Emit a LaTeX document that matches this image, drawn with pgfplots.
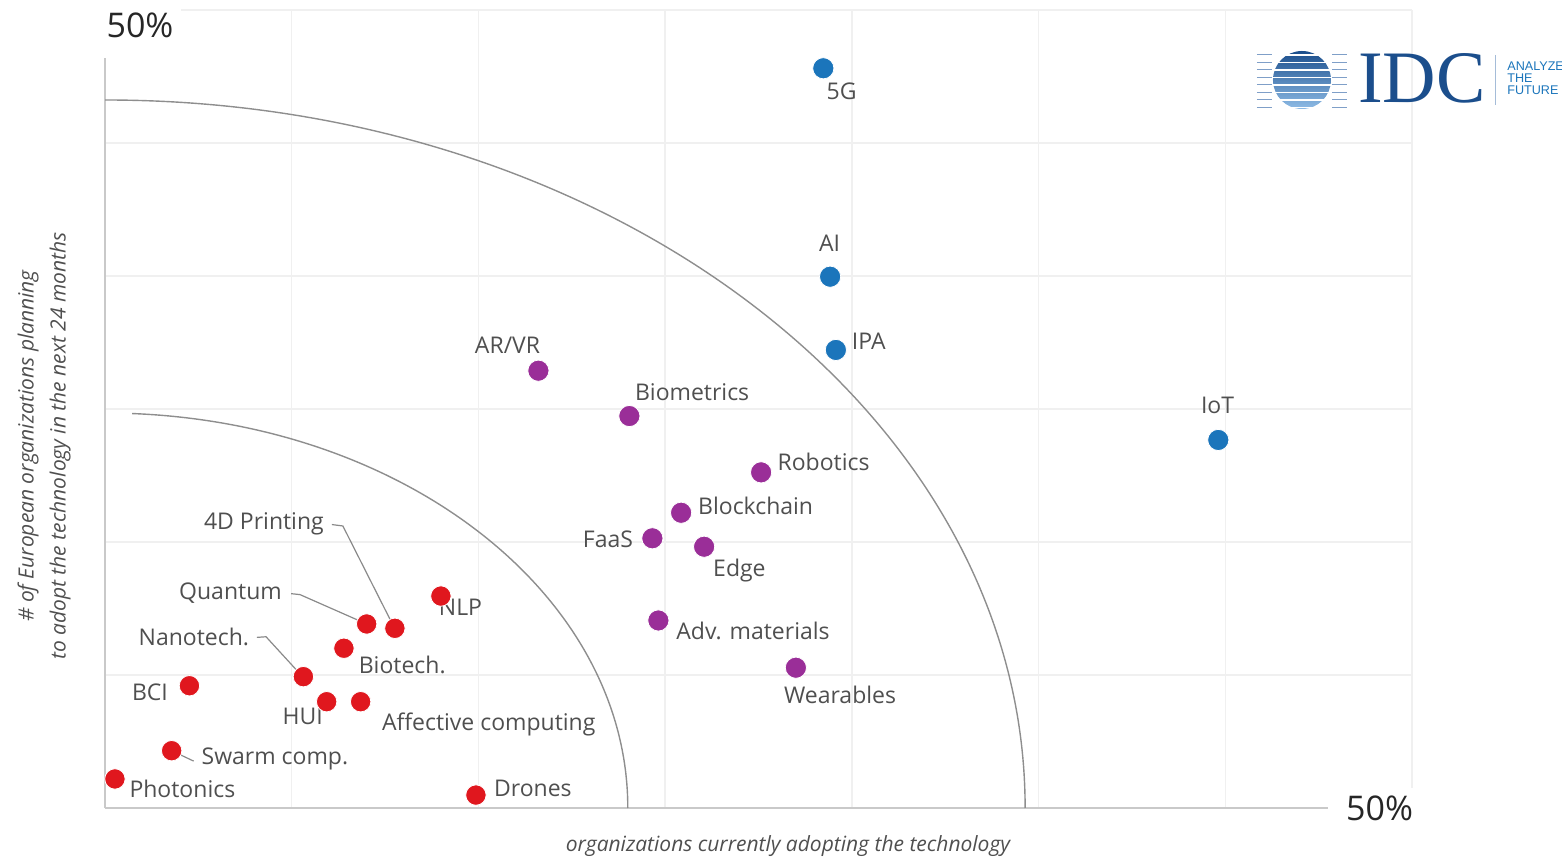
\documentclass[border=0pt]{standalone}
\usepackage{pgfplots}
\pgfplotsset{compat=1.18}
\usepackage{fontspec}
\setmainfont{Open Sans}
\newfontfamily\logoserif{Liberation Serif}
\newfontfamily\logosans{Liberation Sans}
\definecolor{idcblue}{HTML}{1B75BB}
\definecolor{idcpurple}{HTML}{9A2E98}
\definecolor{idcred}{HTML}{E0171E}
\definecolor{labelgray}{HTML}{4F4F4F}
\definecolor{gridgray}{HTML}{F0F0F0}
\definecolor{axisgray}{HTML}{C9C9C9}
\definecolor{arcgray}{HTML}{8E8E8E}
\definecolor{leadgray}{HTML}{8A8A8A}
\definecolor{logonavy}{HTML}{1B4E8C}
\definecolor{logolight}{HTML}{8FBCE6}
\definecolor{logoline}{HTML}{7F9FC8}

\pgfplotstableread{
x y
27.48 46.35
27.74 33.29
27.96 28.70
42.59 23.06
}\bluedata
\pgfplotstableread{
x y
16.58 27.40
20.06 24.56
25.10 21.03
22.04 18.50
20.94 16.90
22.92 16.37
21.17 11.75
26.43 8.79
}\purpledata
\pgfplotstableread{
x y
12.85 13.28
11.09 11.26
10.01 11.53
9.14 10.01
7.59 8.23
3.23 7.66
8.48 6.66
9.78 6.66
2.55 3.59
0.38 1.82
14.19 0.81
}\reddata

\begin{document}
\begin{tikzpicture}[lbl/.style={font=\fontsize{11.5bp}{13bp}\selectfont, text=labelgray, inner sep=0pt},
  gridl/.style={gridgray, line width=0.75bp}]
\useasboundingbox (-52.5bp,-27bp) rectangle (728.5bp,404bp);
\begin{axis}[at={(0,0)}, anchor=south west, scale only axis,
  width=653.5bp, height=399bp,
  xmin=0, xmax=50, ymin=0, ymax=50,
  axis line style={draw=none},
  xtick=\empty, ytick=\empty,
  clip=false]
% grid
\draw[gridl] (axis cs:7.142857,0) -- (axis cs:7.142857,50);
\draw[gridl] (axis cs:14.285714,0) -- (axis cs:14.285714,50);
\draw[gridl] (axis cs:21.428571,0) -- (axis cs:21.428571,50);
\draw[gridl] (axis cs:28.571429,0) -- (axis cs:28.571429,50);
\draw[gridl] (axis cs:35.714286,0) -- (axis cs:35.714286,50);
\draw[gridl] (axis cs:42.857143,0) -- (axis cs:42.857143,50);
\draw[gridl] (axis cs:50,0) -- (axis cs:50,50);
\draw[gridl] (axis cs:0,8.333333) -- (axis cs:50,8.333333);
\draw[gridl] (axis cs:0,16.666667) -- (axis cs:50,16.666667);
\draw[gridl] (axis cs:0,25) -- (axis cs:50,25);
\draw[gridl] (axis cs:0,33.333333) -- (axis cs:50,33.333333);
\draw[gridl] (axis cs:0,41.666667) -- (axis cs:50,41.666667);
\draw[gridl] (axis cs:0,50) -- (axis cs:50,50);
% axis lines
\draw[axisgray, line width=1bp] (axis cs:0,0) -- (axis cs:46.79,0);
\draw[axisgray, line width=1bp] (axis cs:0,0) -- (axis cs:0,46.99);
% arcs
\draw[arcgray, line width=0.7bp] (axis cs:20,0) arc[start angle=0, end angle=87, x radius=261.5bp, y radius=197.5bp];
\draw[arcgray, line width=0.7bp] (axis cs:35.2,0) arc[start angle=0, end angle=90, x radius=460bp, y radius=354bp];
% leader lines
\addplot[leadgray, line width=0.6bp, mark=none] coordinates {(8.68,17.76) (9.10,17.67) (11.09,11.22)};
\addplot[leadgray, line width=0.6bp, mark=none] coordinates {(7.12,13.43) (7.46,13.37) (10.01,11.53)};
\addplot[leadgray, line width=0.6bp, mark=none] coordinates {(5.81,10.69) (6.16,10.73) (7.57,8.21)};
\addplot[leadgray, line width=0.6bp, mark=none] coordinates {(3.39,2.94) (2.55,3.59)};
% points
\addplot[only marks, mark=*, mark size=5.3bp, mark options={fill=idcblue, draw=white, line width=0.4bp}] table[x=x,y=y] {\bluedata};
\addplot[only marks, mark=*, mark size=5.3bp, mark options={fill=idcpurple, draw=white, line width=0.4bp}] table[x=x,y=y] {\purpledata};
\addplot[only marks, mark=*, mark size=5.1bp, mark options={fill=idcred, draw=white, line width=0.4bp}] table[x=x,y=y] {\reddata};
% labels
\node[lbl] at (axis cs:28.18,44.93) {5G};
\node[lbl] at (axis cs:27.72,35.40) {AI};
\node[lbl] at (axis cs:29.22,29.26) {IPA};
\node[lbl] at (axis cs:42.56,25.25) {IoT};
\node[lbl] at (axis cs:15.40,29.01) {AR/VR};
\node[lbl] at (axis cs:22.46,26.07) {Biometrics};
\node[lbl] at (axis cs:27.49,21.68) {Robotics};
\node[lbl] at (axis cs:24.89,18.92) {Blockchain};
\node[lbl] at (axis cs:19.24,16.82) {FaaS};
\node[lbl] at (axis cs:24.27,14.91) {Edge};
\node[lbl] at (axis cs:24.79,11.12) {Adv. materials};
\node[lbl] at (axis cs:28.12,7.08) {Wearables};
\node[lbl] at (axis cs:13.60,12.59) {NLP};
\node[lbl] at (axis cs:6.08,17.83) {4D Printing};
\node[lbl] at (axis cs:4.80,13.44) {Quantum};
\node[lbl] at (axis cs:3.40,10.71) {Nanotech.};
\node[lbl] at (axis cs:11.37,8.96) {Biotech.};
\node[lbl] at (axis cs:1.72,7.27) {BCI};
\node[lbl] at (axis cs:7.56,5.76) {HUI};
\node[lbl] at (axis cs:14.68,5.26) {Affective computing};
\node[lbl] at (axis cs:6.50,3.07) {Swarm comp.};
\node[lbl] at (axis cs:2.96,1.19) {Photonics};
\node[lbl] at (axis cs:16.37,1.25) {Drones};
% 50% labels
\node[font=\fontsize{17bp}{19bp}\selectfont, text=black!85, fill=white, inner sep=4bp] at (axis cs:1.34,49.06) {50\%};
\node[font=\fontsize{17bp}{19bp}\selectfont, text=black!85, fill=white, inner sep=4bp] at (axis cs:48.76,0) {50\%};
\end{axis}
% pixel-coordinate scope for titles and logo
\begin{scope}[shift={(-52.5bp,404bp)}, x=0.5bp, y=-0.5bp]
\node[font=\itshape\fontsize{10.5bp}{12bp}\selectfont, text=labelgray] at (788,846) {organizations currently adopting the technology};
\node[font=\itshape\fontsize{10.5bp}{16bp}\selectfont, text=labelgray, rotate=90, align=center] at (44,446) {\# of European organizations planning\\to adopt the technology in the next 24 months};
% logo
\foreach \yy in {55,62.5,70,77.5,85,92.5,100,107.5} {
  \draw[logoline, line width=0.5bp] (1257,\yy) -- (1347,\yy);
}
\shade[top color=logonavy, bottom color=logolight] (1302,80) circle[radius=14.5bp];
\foreach \yy in {55,62.5,70,77.5,85,92.5,100,107.5} {
  \draw[white, line width=0.9bp] (1272,\yy) -- (1332,\yy);
}
\node[font=\logoserif\fontsize{37bp}{37bp}\selectfont, text=logonavy, inner sep=0pt] at (1422,78) {IDC};
\draw[logoline!70, line width=0.5bp] (1496,55) -- (1496,105);
\node[font=\logosans\fontsize{6.3bp}{6.3bp}\selectfont, text=idcblue, anchor=west, inner sep=0pt] at (1507,66) {ANALYZE};
\node[font=\logosans\fontsize{6.3bp}{6.3bp}\selectfont, text=idcblue, anchor=west, inner sep=0pt] at (1507,78) {THE};
\node[font=\logosans\fontsize{6.3bp}{6.3bp}\selectfont, text=idcblue, anchor=west, inner sep=0pt] at (1507,90) {FUTURE};
\end{scope}
\end{tikzpicture}
\end{document}
